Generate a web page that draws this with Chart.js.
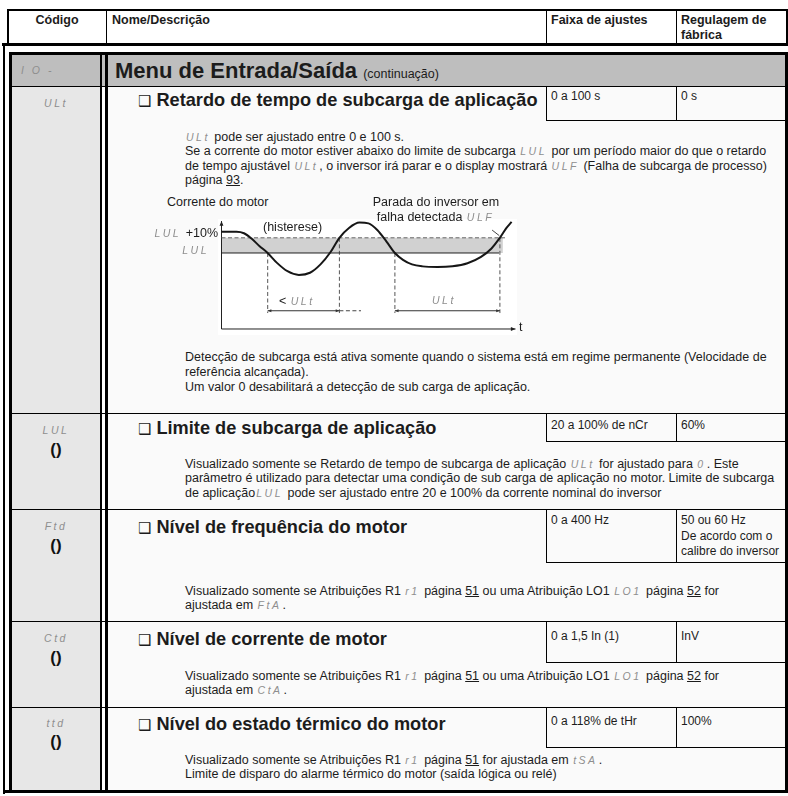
<!DOCTYPE html>
<html>
<head>
<meta charset="utf-8">
<script src="https://cdn.jsdelivr.net/npm/chart.js@4.4.1/dist/chart.umd.min.js"></script>
<style>
  body { margin:0; width:788px; height:796px; position:relative; overflow:hidden; background:#fff;
         font-family:"Liberation Sans", Arial, Helvetica, sans-serif; color:#1c1c1c; }
  .ln { position:absolute; background:#000; }
  .bg { position:absolute; }
  .t  { position:absolute; white-space:nowrap; font-size:12.5px; line-height:15px; }
  .h  { font-weight:bold; font-size:12.5px; }
  .ttl { font-weight:bold; font-size:18.2px; line-height:20px; }
  .box { font-size:12px; line-height:15.5px; }
  .seg { font-style:italic; color:#8e8e8e; letter-spacing:2.5px; font-size:10.5px; margin:0 1px; }
  .code { left:12px; width:88px; text-align:center; }
  .ico { font-weight:bold; font-size:17px; line-height:18px; color:#111; left:12px; width:88px; text-align:center; }
  .sq { font-family:"DejaVu Sans", sans-serif; font-weight:normal; font-size:15px; margin-right:5px; }
</style>
</head>
<body>

<!-- header -->
<div class="ln" style="left:7px;top:9px;width:781px;height:2px"></div>
<div class="ln" style="left:7px;top:9px;width:2px;height:35px"></div>
<div class="ln" style="left:786px;top:9px;width:2px;height:35px"></div>
<div class="ln" style="left:2px;top:43px;width:786px;height:3px"></div>
<div class="ln" style="left:106px;top:9px;width:1px;height:35px"></div>
<div class="ln" style="left:546px;top:9px;width:1px;height:35px"></div>
<div class="ln" style="left:676px;top:9px;width:1px;height:35px"></div>
<div class="t h" style="left:8px;width:98px;text-align:center;top:13px">Código</div>
<div class="t h" style="left:112px;top:13px">Nome/Descrição</div>
<div class="t h" style="left:551px;top:13px">Faixa de ajustes</div>
<div class="t h" style="left:681px;top:13px">Regulagem de<br>fábrica</div>

<!-- body frame -->
<div class="bg" style="left:12px;top:55px;width:88px;height:735px;background:#e7e7e7"></div>
<div class="bg" style="left:108px;top:55px;width:677px;height:735px;background:#fafafa"></div>
<div class="bg" style="left:12px;top:55px;width:773px;height:31px;background:#bebebe"></div>
<div class="ln" style="left:3px;top:46px;width:2px;height:748px"></div>
<div class="ln" style="left:9px;top:52px;width:3px;height:741px"></div>
<div class="ln" style="left:9px;top:52px;width:779px;height:3px"></div>
<div class="ln" style="left:785px;top:52px;width:3px;height:741px"></div>
<div class="ln" style="left:3px;top:790px;width:785px;height:3px"></div>
<div class="ln" style="left:100px;top:55px;width:2px;height:735px"></div>
<div class="ln" style="left:105px;top:55px;width:3px;height:735px"></div>
<div class="ln" style="left:12px;top:86px;width:773px;height:1px"></div>
<div class="ln" style="left:12px;top:413px;width:773px;height:1px"></div>
<div class="ln" style="left:12px;top:509px;width:773px;height:1px"></div>
<div class="ln" style="left:12px;top:621px;width:773px;height:1px"></div>
<div class="ln" style="left:12px;top:707px;width:773px;height:1px"></div>

<!-- section -->
<div class="t" style="left:20px;top:63px"><span class="seg">I O -</span></div>
<div class="t" style="left:115px;top:58px;font-size:22px;line-height:25px;font-weight:bold">Menu de Entrada/Saída <span style="font-weight:normal;font-size:12.5px">(continuação)</span></div>

<!-- ULt -->
<div class="t code" style="top:95.5px"><span class="seg">ULt</span></div>
<div class="t ttl" style="left:138px;top:90px"><span class="sq">❑</span>Retardo de tempo de subcarga de aplicação</div>
<div class="ln" style="left:546px;top:86px;width:1px;height:34px"></div>
<div class="ln" style="left:676px;top:86px;width:1px;height:34px"></div>
<div class="ln" style="left:546px;top:120px;width:239px;height:1px"></div>
<div class="t box" style="left:551px;top:89px">0 a 100 s</div>
<div class="t box" style="left:681px;top:89px">0 s</div>
<div class="t" style="left:185px;top:129.5px"><span class="seg">ULt</span> pode ser ajustado entre 0 e 100 s.</div>
<div class="t" style="left:185px;top:144px">Se a corrente do motor estiver abaixo do limite de subcarga <span class="seg">LUL</span> por um período maior do que o retardo</div>
<div class="t" style="left:185px;top:158.5px">de tempo ajustável <span class="seg">ULt</span>, o inversor irá parar e o display mostrará <span class="seg">ULF</span> (Falha de subcarga de processo)</div>
<div class="t" style="left:185px;top:173px">página <u>93</u>.</div>

<!-- diagram -->
<div class="bg" style="left:218px;top:219px;width:299px;height:116px;background:#fff"></div>
<canvas id="ulChart" width="330" height="130" style="position:absolute;left:200px;top:210px"></canvas>
<div class="t" style="left:167px;top:194.5px">Corrente do motor</div>
<div class="t" style="left:356px;width:160px;text-align:center;top:194.5px">Parada do inversor em<br>falha detectada <span class="seg">ULF</span></div>
<div class="t" style="left:263px;top:219.5px">(histerese)</div>
<div class="t" style="left:140px;width:78px;text-align:right;top:225.5px"><span class="seg">LUL</span> +10%</div>
<div class="t" style="left:140px;width:70px;text-align:right;top:242.5px"><span class="seg">LUL</span></div>
<div class="t" style="left:279px;top:293.5px">&lt; <span class="seg">ULt</span></div>
<div class="t" style="left:431px;top:292.5px"><span class="seg">ULt</span></div>
<div class="t" style="left:519px;top:320px">t</div>

<div class="t" style="left:185px;top:349.5px">Detecção de subcarga está ativa somente quando o sistema está em regime permanente (Velocidade de</div>
<div class="t" style="left:185px;top:364.5px">referência alcançada).</div>
<div class="t" style="left:185px;top:379.5px">Um valor 0 desabilitará a detecção de sub carga de aplicação.</div>

<!-- LUL -->
<div class="t code" style="top:422.5px"><span class="seg">LUL</span></div>
<div class="t ico" style="top:441px">()</div>
<div class="t ttl" style="left:138px;top:418px"><span class="sq">❑</span>Limite de subcarga de aplicação</div>
<div class="ln" style="left:546px;top:413px;width:1px;height:28px"></div>
<div class="ln" style="left:676px;top:413px;width:1px;height:28px"></div>
<div class="ln" style="left:546px;top:441px;width:239px;height:1px"></div>
<div class="t box" style="left:551px;top:418px">20 a 100% de nCr</div>
<div class="t box" style="left:681px;top:418px">60%</div>
<div class="t" style="left:185px;top:456.5px">Visualizado somente se Retardo de tempo de subcarga de aplicação <span class="seg">ULt</span> for ajustado para <span class="seg">0</span>. Este</div>
<div class="t" style="left:185px;top:471px">parâmetro é utilizado para detectar uma condição de sub carga de aplicação no motor. Limite de subcarga</div>
<div class="t" style="left:185px;top:485.5px">de aplicação<span class="seg">LUL</span> pode ser ajustado entre 20 e 100% da corrente nominal do inversor</div>

<!-- Ftd -->
<div class="t code" style="top:518.5px"><span class="seg">Ftd</span></div>
<div class="t ico" style="top:537px">()</div>
<div class="t ttl" style="left:138px;top:517px"><span class="sq">❑</span>Nível de frequência do motor</div>
<div class="ln" style="left:546px;top:509px;width:1px;height:53px"></div>
<div class="ln" style="left:676px;top:509px;width:1px;height:53px"></div>
<div class="ln" style="left:546px;top:562px;width:239px;height:1px"></div>
<div class="t box" style="left:551px;top:513px">0 a 400 Hz</div>
<div class="t box" style="left:681px;top:513px">50 ou 60 Hz<br>De acordo com o<br>calibre do inversor</div>
<div class="t" style="left:185px;top:583.5px">Visualizado somente se Atribuições R1 <span class="seg">r1</span> página <u>51</u> ou uma Atribuição LO1 <span class="seg">LO1</span> página <u>52</u> for</div>
<div class="t" style="left:185px;top:598px">ajustada em <span class="seg">FtA</span>.</div>

<!-- Ctd -->
<div class="t code" style="top:631px"><span class="seg">Ctd</span></div>
<div class="t ico" style="top:649px">()</div>
<div class="t ttl" style="left:138px;top:629px"><span class="sq">❑</span>Nível de corrente de motor</div>
<div class="ln" style="left:546px;top:621px;width:1px;height:41px"></div>
<div class="ln" style="left:676px;top:621px;width:1px;height:41px"></div>
<div class="ln" style="left:546px;top:662px;width:239px;height:1px"></div>
<div class="t box" style="left:551px;top:629px">0 a 1,5 In (1)</div>
<div class="t box" style="left:681px;top:629px">InV</div>
<div class="t" style="left:185px;top:668.5px">Visualizado somente se Atribuições R1 <span class="seg">r1</span> página <u>51</u> ou uma Atribuição LO1 <span class="seg">LO1</span> página <u>52</u> for</div>
<div class="t" style="left:185px;top:683px">ajustada em <span class="seg">CtA</span>.</div>

<!-- ttd -->
<div class="t code" style="top:715.5px"><span class="seg">ttd</span></div>
<div class="t ico" style="top:733px">()</div>
<div class="t ttl" style="left:138px;top:714px"><span class="sq">❑</span>Nível do estado térmico do motor</div>
<div class="ln" style="left:546px;top:707px;width:1px;height:40px"></div>
<div class="ln" style="left:676px;top:707px;width:1px;height:40px"></div>
<div class="ln" style="left:546px;top:747px;width:239px;height:1px"></div>
<div class="t box" style="left:551px;top:714px">0 a 118% de tHr</div>
<div class="t box" style="left:681px;top:714px">100%</div>
<div class="t" style="left:185px;top:752.5px">Visualizado somente se Atribuições R1 <span class="seg">r1</span> página <u>51</u> for ajustada em <span class="seg">tSA</span>.</div>
<div class="t" style="left:185px;top:766.5px">Limite de disparo do alarme térmico do motor (saída lógica ou relé)</div>

<script>
// time axis (arbitrary units) and motor current (% of LUL)
const curveTime    = [0, 5, 7.5, 10, 12.7, 15.4, 18.5, 22, 25.8, 29.5, 33, 36.3, 39.3, 42.5, 46, 49, 52, 55, 57.8,
                      60.5, 63.5, 67, 72, 77, 82, 86.5, 90, 92.8, 95, 96.7];
const curveCurrent = [114, 114, 113, 109.5, 104.5, 100, 93.5, 88, 85.6, 87, 92.5, 100.5, 110, 116.5, 120, 119.5, 115, 107.5, 100,
                      95.5, 92.5, 91.2, 90.8, 91.3, 93.3, 97.5, 103, 110, 116.5, 120.5];

const lulLevel  = 100;   // LUL
const hystLevel = 110;   // LUL +10%
const lulEnd = 92.5, hystEnd = 95.2, bandEnd = 93.8;

// instants where the curve crosses LUL / LUL+10%
const crossTime  = [15.4, 39.3, 57.8, 92.8];
const crossLevel = [100, 110, 100, 110];

const measureLevel = 62;            // level of the ULt dimension arrows
const shortSpan = [15.4, 39.3];     // < ULt
const shortTail = [39.3, 46.5];
const longSpan  = [57.8, 92.8];     // ULt -> ULF

const axisBase = 50, axisTop = 121, axisEnd = 98;
const ulfPointerTime = [90.2, 92.6], ulfPointerLevel = [115.1, 111.4];

const pts = (xs, ys) => xs.map((x, i) => ({ x, y: ys[i] }));
const hline = (x0, x1, y) => [{ x: x0, y }, { x: x1, y }];

function line(data, extra) {
  return Object.assign({
    data, showLine: true, pointRadius: 0, borderWidth: 1,
    borderColor: '#222', fill: false, tension: 0, order: 1
  }, extra);
}

const datasets = [
  line(pts(curveTime, curveCurrent), { borderWidth: 2, borderColor: '#161616', cubicInterpolationMode: 'monotone', order: 0 }),
  line(hline(0, lulEnd, lulLevel), { borderColor: '#1f1f1f' }),
  line(hline(0, hystEnd, hystLevel), { borderColor: '#666', borderDash: [4, 2.5] }),
  line(hline(0, axisEnd, axisBase), { borderColor: '#222', arrows: 'end', arrowSize: 5 }),
  line([{ x: 0, y: axisBase }, { x: 0, y: axisTop }], { borderColor: '#222', arrows: 'end', arrowSize: 5 }),
  line(hline(shortSpan[0], shortSpan[1], measureLevel), { borderColor: '#333', arrows: 'both', arrowSize: 4 }),
  line(hline(shortTail[0], shortTail[1], measureLevel), { borderColor: '#444', borderDash: [4, 2.5] }),
  line(hline(longSpan[0], longSpan[1], measureLevel), { borderColor: '#333', arrows: 'both', arrowSize: 4 }),
  line(pts(ulfPointerTime, ulfPointerLevel), { borderColor: '#444' }),
  // grey hysteresis band between LUL and LUL+10%
  line(hline(0, bandEnd, hystLevel), { borderWidth: 0, borderColor: 'rgba(0,0,0,0)', fill: '+1', backgroundColor: '#d1d1d1', order: 5 }),
  line(hline(0, bandEnd, lulLevel), { borderWidth: 0, borderColor: 'rgba(0,0,0,0)', order: 5 })
];

crossTime.forEach((t, i) => {
  datasets.push(line([{ x: t, y: crossLevel[i] }, { x: t, y: measureLevel - 1.5 }],
    { borderColor: '#555', borderDash: [4, 2.5], order: 2 }));
});

function arrowHead(ctx, from, to, size) {
  const a = Math.atan2(to.y - from.y, to.x - from.x);
  ctx.beginPath();
  ctx.moveTo(to.x, to.y);
  ctx.lineTo(to.x - size * Math.cos(a - 0.4), to.y - size * Math.sin(a - 0.4));
  ctx.lineTo(to.x - size * Math.cos(a + 0.4), to.y - size * Math.sin(a + 0.4));
  ctx.closePath();
  ctx.fill();
}

const arrowPlugin = {
  id: 'arrows',
  afterDatasetsDraw(chart) {
    const ctx = chart.ctx;
    chart.data.datasets.forEach((ds, i) => {
      if (!ds.arrows) return;
      const el = chart.getDatasetMeta(i).data;
      const a = el[0], b = el[el.length - 1];
      ctx.save();
      ctx.fillStyle = ds.borderColor;
      arrowHead(ctx, a, b, ds.arrowSize);
      if (ds.arrows === 'both') arrowHead(ctx, b, a, ds.arrowSize);
      ctx.restore();
    });
  }
};

new Chart(document.getElementById('ulChart').getContext('2d'), {
  type: 'line',
  data: { datasets },
  options: {
    responsive: false,
    animation: false,
    devicePixelRatio: 1,
    layout: { padding: 0 },
    plugins: { legend: { display: false }, tooltip: { enabled: false } },
    scales: {
      x: { type: 'linear', display: false, min: -7.1667, max: 102.8333 },
      y: { type: 'linear', display: false, min: 42.763, max: 128.289 }
    }
  },
  plugins: [arrowPlugin]
});
</script>
</body>
</html>
